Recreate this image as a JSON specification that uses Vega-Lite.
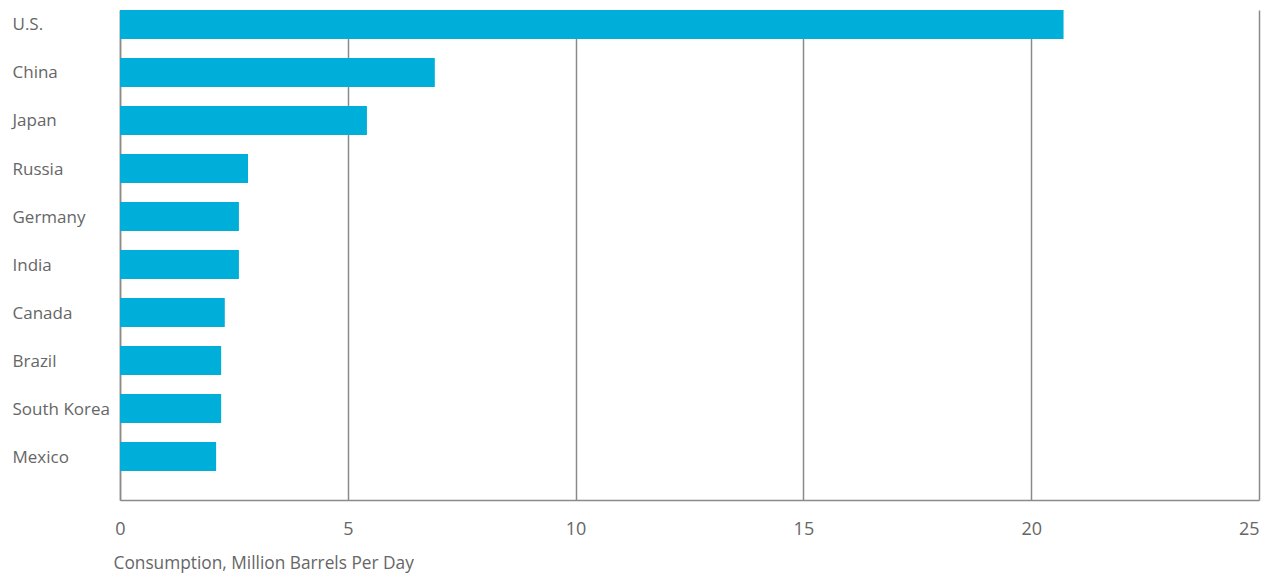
{
  "$schema": "https://vega.github.io/schema/vega-lite/v6.json",
  "autosize": "none",
  "padding": {"left": 120, "top": 10, "right": 11, "bottom": 75},
  "width": 1139,
  "height": 490,
  "background": "white",
  "data": {"values": [
    {"country": "U.S.", "value": 20.71},
    {"country": "China", "value": 6.91},
    {"country": "Japan", "value": 5.42},
    {"country": "Russia", "value": 2.81},
    {"country": "Germany", "value": 2.61},
    {"country": "India", "value": 2.61},
    {"country": "Canada", "value": 2.30},
    {"country": "Brazil", "value": 2.22},
    {"country": "South Korea", "value": 2.22},
    {"country": "Mexico", "value": 2.11}
  ]},
  "mark": {"type": "bar", "color": "#00AEDA"},
  "encoding": {
    "y": {
      "field": "country", "type": "nominal", "sort": null,
      "scale": {"paddingInner": 0.396, "paddingOuter": 0.302, "align": 0},
      "axis": {
        "title": null, "ticks": false, "tickSize": 0, "labelAlign": "left",
        "labelPadding": 108, "labelFont": "Open Sans", "labelFontSize": 17,
        "labelOffset": 1,
        "labelColor": "#666666", "domainColor": "#8a8a8a", "domainWidth": 1.5,
        "grid": false
      }
    },
    "x": {
      "field": "value", "type": "quantitative",
      "scale": {"domain": [0, 25], "nice": false},
      "axis": {
        "title": "Consumption, Million Barrels Per Day",
        "values": [0, 5, 10, 15, 20, 25],
        "ticks": false, "tickSize": 0,
        "labelPadding": 34, "labelBaseline": "alphabetic",
        "labelAlign": {"condition": {"test": "datum.value == 25", "value": "right"}, "value": "center"},
        "labelFont": "Open Sans", "labelFontSize": 18, "labelColor": "#666666",
        "titleFont": "Open Sans", "titleFontSize": 17.3, "titleFontWeight": "normal",
        "titleColor": "#666666", "titleAnchor": "start", "titleAlign": "left",
        "titleBaseline": "alphabetic", "titleX": -7, "titleY": 68,
        "domainColor": "#8a8a8a", "domainWidth": 1.5,
        "grid": true, "gridColor": "#8a8a8a", "gridWidth": 1.5, "gridOpacity": 1
      }
    }
  },
  "config": {"view": {"stroke": null}}
}
